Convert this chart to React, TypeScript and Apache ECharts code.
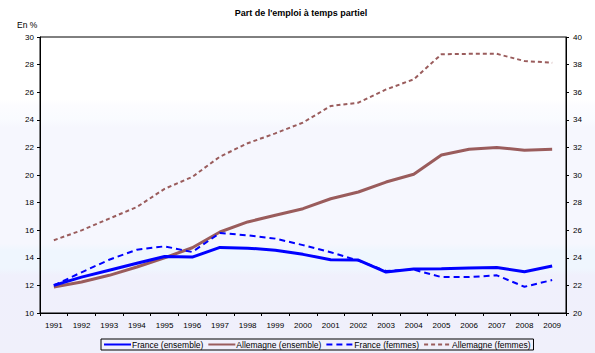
import React, { useEffect, useRef } from "react";
import * as echarts from "echarts";

const years = ["1991","1992","1993","1994","1995","1996","1997","1998","1999","2000","2001","2002","2003","2004","2005","2006","2007","2008","2009"];
const franceEnsemble = [12.0, 12.6, 13.1, 13.6, 14.1, 14.05, 14.75, 14.7, 14.55, 14.25, 13.86, 13.84, 12.97, 13.19, 13.2, 13.26, 13.3, 12.99, 13.4];
const allemagneEnsemble = [11.88, 12.25, 12.73, 13.33, 14.0, 14.73, 15.87, 16.6, 17.08, 17.56, 18.28, 18.77, 19.49, 20.05, 21.45, 21.86, 22.0, 21.8, 21.86];
const franceFemmes = [22.0, 22.95, 23.86, 24.59, 24.83, 24.42, 25.8, 25.63, 25.39, 24.92, 24.4, 23.8, 23.04, 23.14, 22.6, 22.6, 22.73, 21.9, 22.39];
const allemagneFemmes = [25.27, 25.99, 26.84, 27.68, 29.0, 29.86, 31.33, 32.3, 33.02, 33.8, 35.0, 35.24, 36.2, 36.93, 38.75, 38.78, 38.78, 38.26, 38.14];
const leftTicks = { min: 10, max: 30, interval: 2 };
const rightTicks = { min: 20, max: 40, interval: 2 };

const BLUE = "#0000ff";
const BROWN = "#9a5c5c";
const FONT = "Liberation Sans";

export default function App() {
  const ref = useRef<HTMLDivElement>(null);
  useEffect(() => {
    if (!ref.current) return;
    document.body.style.margin = "0";
    const chart = echarts.init(ref.current, undefined, { renderer: "svg" });
    const axisText = { color: "#000", fontSize: 8, fontFamily: FONT };
    const hiddenSymbol = { color: "transparent", borderWidth: 0 };
    chart.setOption({
      animation: false,
      backgroundColor: {
        type: "linear", x: 0, y: 0, x2: 0, y2: 1,
        colorStops: [
          { offset: 0, color: "#ffffff" },
          { offset: 0.28, color: "#ffffff" },
          { offset: 0.3, color: "#fcfcff" },
          { offset: 0.34, color: "#f9fbff" },
          { offset: 0.36, color: "#f6f7fe" },
          { offset: 0.69, color: "#f6f7fe" },
          { offset: 0.71, color: "#eff6fe" },
          { offset: 0.76, color: "#eff6fe" },
          { offset: 0.78, color: "#f0f0fc" },
          { offset: 1, color: "#f0f0fb" },
        ],
      },
      title: [
        { text: "Part de l'emploi à temps partiel", left: 296, top: 3, textAlign: "center",
          textStyle: { fontSize: 9, fontWeight: "bold", fontFamily: FONT, color: "#000" } },
        { text: "En %", left: 12, top: 15, textStyle: { fontSize: 8.5, fontWeight: "normal", fontFamily: FONT, color: "#000" } },
      ],
      grid: { left: 40, right: 29, top: 37, bottom: 40, show: true, borderColor: "#000", borderWidth: 1, backgroundColor: "transparent" },
      legend: {
        bottom: 3, left: 101,
        itemWidth: 27, itemHeight: 8, itemGap: 4,
        padding: [1, 3, 1, 2],
        borderColor: "#000", borderWidth: 1,
        textStyle: { fontSize: 8.5, fontFamily: FONT, color: "#000", padding: [0, 0, 0, -4] },
        data: [
          { name: "France (ensemble)", itemStyle: hiddenSymbol },
          { name: "Allemagne (ensemble)", itemStyle: hiddenSymbol },
          { name: "France (femmes)", itemStyle: hiddenSymbol },
          { name: "Allemagne (femmes)", itemStyle: hiddenSymbol },
        ],
      },
      xAxis: {
        type: "category", data: years, boundaryGap: true,
        axisLine: { lineStyle: { color: "#000", width: 1 } },
        axisTick: { show: true, alignWithLabel: false, length: 3, lineStyle: { color: "#000" } },
        axisLabel: { ...axisText, margin: 8 },
      },
      yAxis: [
        { type: "value", position: "left", ...leftTicks,
          axisLine: { show: true, lineStyle: { color: "#000" } },
          axisTick: { show: true, length: 3, lineStyle: { color: "#000" } },
          axisLabel: { ...axisText, margin: 6 }, splitLine: { show: false } },
        { type: "value", position: "right", ...rightTicks,
          axisLine: { show: true, lineStyle: { color: "#000" } },
          axisTick: { show: true, length: 3, lineStyle: { color: "#000" } },
          axisLabel: { ...axisText, margin: 7 }, splitLine: { show: false } },
      ],
      series: [
        { name: "France (ensemble)", type: "line", data: franceEnsemble, yAxisIndex: 0, symbol: "none",
          lineStyle: { color: BLUE, width: 3 }, itemStyle: { color: BLUE }, z: 4 },
        { name: "Allemagne (ensemble)", type: "line", data: allemagneEnsemble, yAxisIndex: 0, symbol: "none",
          lineStyle: { color: BROWN, width: 3 }, itemStyle: { color: BROWN }, z: 3 },
        { name: "France (femmes)", type: "line", data: franceFemmes, yAxisIndex: 1, symbol: "none",
          lineStyle: { color: BLUE, width: 2, type: [6, 4] }, itemStyle: { color: BLUE }, z: 5 },
        { name: "Allemagne (femmes)", type: "line", data: allemagneFemmes, yAxisIndex: 1, symbol: "none",
          lineStyle: { color: BROWN, width: 2, type: [4, 3] }, itemStyle: { color: BROWN }, z: 2 },
      ],
    });
    return () => chart.dispose();
  }, []);
  return <div ref={ref} style={{ width: 595, height: 353, position: "absolute", left: 0, top: 0 }} />;
}
